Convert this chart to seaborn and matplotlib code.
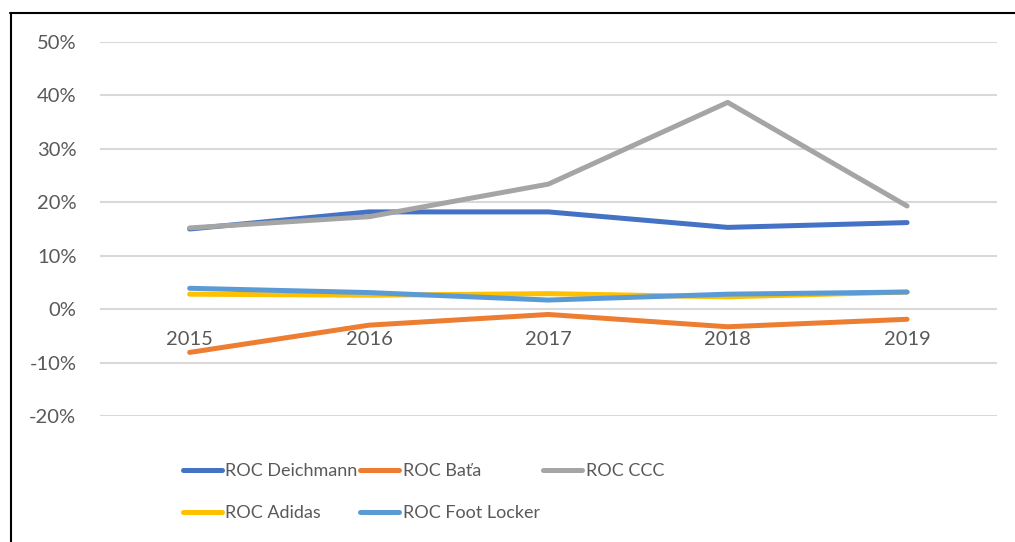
import pandas as pd
import matplotlib
matplotlib.use("Agg")
import matplotlib.pyplot as plt
import seaborn as sns
from matplotlib.lines import Line2D
from matplotlib.ticker import PercentFormatter

# Data (return on capital, %)
years = ["2015", "2016", "2017", "2018", "2019"]
deichmann = [15.0, 18.2, 18.2, 15.3, 16.2]
bata = [-8.1, -3.0, -1.0, -3.3, -1.9]
ccc = [15.2, 17.3, 23.4, 38.7, 19.3]
adidas = [2.8, 2.6, 2.9, 2.3, 3.2]
footlocker = [3.9, 3.1, 1.7, 2.8, 3.2]

series_names = ["ROC Deichmann", "ROC Baťa", "ROC CCC", "ROC Adidas", "ROC Foot Locker"]
colors = ["#4472C4", "#ED7D31", "#A5A5A5", "#FFC000", "#5B9BD5"]

# Build long table for seaborn
frames = []
for name, vals in zip(series_names, [deichmann, bata, ccc, adidas, footlocker]):
    frames.append(pd.DataFrame({"year": years, "roc": vals, "series": name}))
df = pd.concat(frames, ignore_index=True)

sns.set_style("white")
plt.rcParams['font.family'] = ['Lato', 'DejaVu Sans']
plt.rcParams['axes.unicode_minus'] = False

fig = plt.figure(figsize=(10.15, 5.42), dpi=100)
ax = fig.add_axes([0.0985, 0.2325, 0.8835, 0.69])

sns.lineplot(data=df, x="year", y="roc", hue="series", palette=colors,
             hue_order=series_names, linewidth=3.6, ax=ax, legend=False,
             solid_capstyle="round", solid_joinstyle="round")

ax.set_ylim(-20, 50)
ax.set_xlim(-0.5, 4.5)
ax.set_yticks(range(-20, 51, 10))
ax.yaxis.set_major_formatter(PercentFormatter(decimals=0))
ax.grid(axis="y", color="#D9D9D9", linewidth=1.5)
ax.set_axisbelow(True)
for s in ["top", "right", "left"]:
    ax.spines[s].set_visible(False)
ax.spines["bottom"].set_position(("data", 0))
ax.spines["bottom"].set_visible(False)
ax.tick_params(axis="x", length=0, pad=16, labelsize=14.5, labelcolor="#595959")
ax.tick_params(axis="y", length=0, pad=17, labelsize=14.5, labelcolor="#595959")
ax.set_xlabel("")
ax.set_ylabel("")

# Legend below the plot, filled row by row (matplotlib fills columns, so reorder)
order = [0, 3, 1, 4, 2]
handles = [Line2D([0], [0], color=colors[i], linewidth=3.6, solid_capstyle="round") for i in order]
labels = [series_names[i] for i in order]
leg = fig.legend(handles, labels, loc="upper left", bbox_to_anchor=(0.18, 0.146),
                 ncol=3, frameon=False, fontsize=13, handlelength=2.15,
                 handletextpad=0.22, columnspacing=0.15, labelspacing=1.47,
                 borderpad=0, borderaxespad=0)
for t in leg.get_texts():
    t.set_color("#595959")

# Outer frame (top and left edges only)
fig.add_artist(Line2D([10 / 1015, 1.0], [1 - 12.5 / 542, 1 - 12.5 / 542], color="black", linewidth=1.5))
fig.add_artist(Line2D([10.5 / 1015, 10.5 / 1015], [0, 1 - 12.5 / 542], color="black", linewidth=1.5))

fig.savefig("out.png", dpi=100)
